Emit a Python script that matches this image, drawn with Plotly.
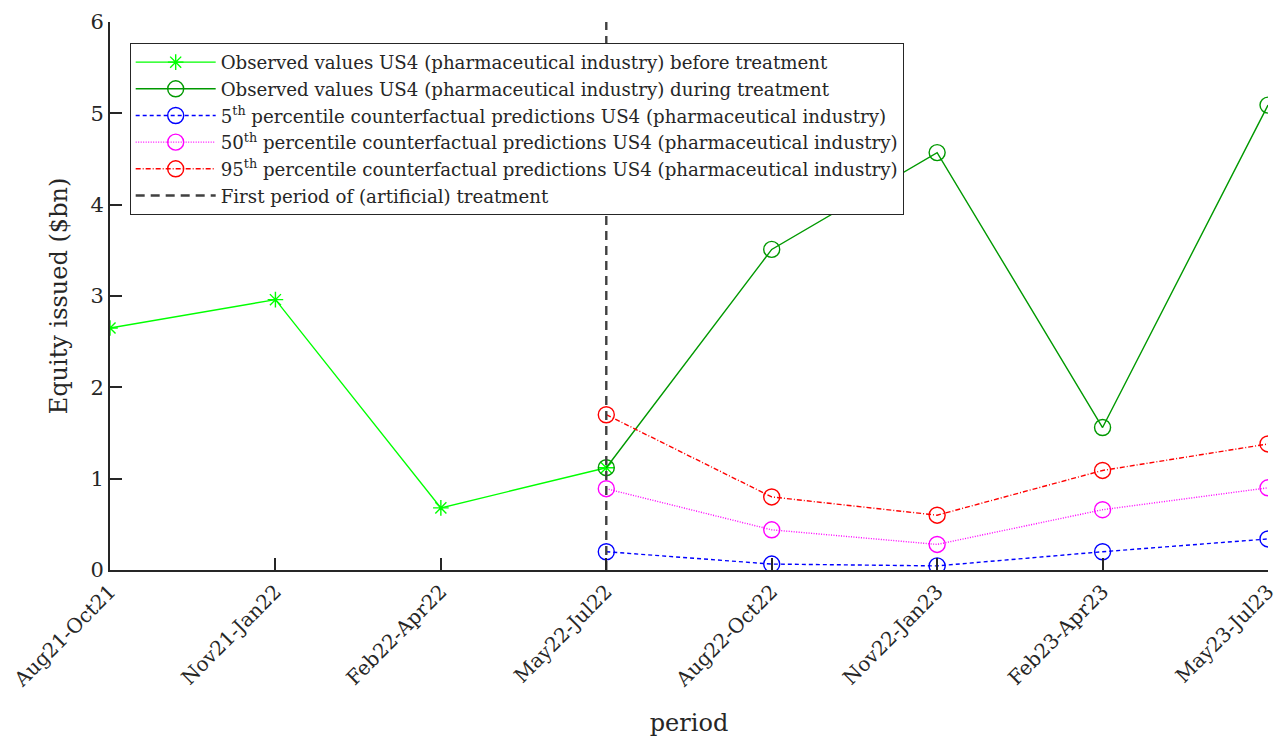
import plotly.graph_objects as go

periods = ["Aug21-Oct21", "Nov21-Jan22", "Feb22-Apr22", "May22-Jul22",
           "Aug22-Oct22", "Nov22-Jan23", "Feb23-Apr23", "May23-Jul23"]
before_idx = [0, 1, 2, 3]
before_vals = [2.65, 2.96, 0.68, 1.12]
during_idx = [3, 4, 5, 6, 7]
during_vals = [1.12, 3.51, 4.57, 1.56, 5.09]
pred_idx = [3, 4, 5, 6, 7]
p5_vals = [0.20, 0.065, 0.045, 0.20, 0.34]
p50_vals = [0.89, 0.44, 0.28, 0.66, 0.90]
p95_vals = [1.70, 0.80, 0.60, 1.09, 1.38]
treat_x = [3, 3]
treat_y = [0, 6]
yticks = [0, 1, 2, 3, 4, 5, 6]

FONT = "DejaVu Serif"
AX = "#262626"
fig = go.Figure()
fig.add_trace(go.Scatter(x=before_idx, y=before_vals, mode="lines+markers",
    name="Observed values US4 (pharmaceutical industry) before treatment",
    line=dict(color="#00ff00", width=1.4),
    marker=dict(symbol="asterisk-open", size=13, color="#00ff00", line=dict(width=1.4, color="#00ff00"))))
fig.add_trace(go.Scatter(x=during_idx, y=during_vals, mode="lines+markers",
    name="Observed values US4 (pharmaceutical industry) during treatment",
    line=dict(color="#009900", width=1.4),
    marker=dict(symbol="circle-open", size=16, color="#009900", line=dict(width=1.4, color="#009900"))))
fig.add_trace(go.Scatter(x=pred_idx, y=p5_vals, mode="lines+markers",
    name="5<sup>th</sup> percentile counterfactual predictions US4 (pharmaceutical industry)",
    line=dict(color="#0000ff", width=1.4, dash="4px,3px"),
    marker=dict(symbol="circle-open", size=16, color="#0000ff", line=dict(width=1.4, color="#0000ff"))))
fig.add_trace(go.Scatter(x=pred_idx, y=p50_vals, mode="lines+markers",
    name="50<sup>th</sup> percentile counterfactual predictions US4 (pharmaceutical industry)",
    line=dict(color="#ff00ff", width=1.4, dash="1px,1.5px"),
    marker=dict(symbol="circle-open", size=16, color="#ff00ff", line=dict(width=1.4, color="#ff00ff"))))
fig.add_trace(go.Scatter(x=pred_idx, y=p95_vals, mode="lines+markers",
    name="95<sup>th</sup> percentile counterfactual predictions US4 (pharmaceutical industry)",
    line=dict(color="#ff0000", width=1.4, dash="5px,2px,1px,2px"),
    marker=dict(symbol="circle-open", size=16, color="#ff0000", line=dict(width=1.4, color="#ff0000"))))
fig.add_trace(go.Scatter(x=treat_x, y=treat_y, mode="lines",
    name="First period of (artificial) treatment",
    line=dict(color="#404040", width=2.4, dash="9px,6px")))

fig.update_layout(
    width=1277, height=738,
    margin=dict(l=102, r=17, t=14, b=176),
    paper_bgcolor="white", plot_bgcolor="white",
    font=dict(family=FONT, size=20, color=AX),
    showlegend=True,
    legend=dict(x=0.017, y=0.962, xanchor="left", yanchor="top",
                bgcolor="white", bordercolor=AX, borderwidth=1,
                font=dict(family=FONT, size=18.2, color=AX),
                itemwidth=80, tracegroupgap=0),
    xaxis=dict(range=[0, 7], tickmode="array", tickvals=list(range(len(periods))),
               ticktext=periods, tickangle=-45, ticks="inside", ticklen=12,
               tickcolor=AX, tickwidth=1.5, automargin=False,
               ticklabeloverflow="allow",
               showline=True, linecolor=AX, linewidth=2,
               showgrid=False, zeroline=False,
               title=dict(text="period", font=dict(size=24), standoff=24),
               tickfont=dict(size=20)),
    yaxis=dict(range=[0, 6], tickmode="array", tickvals=yticks,
               ticks="inside", ticklen=12, tickcolor=AX, tickwidth=1.5, automargin=False,
               showline=True, linecolor=AX, linewidth=2,
               showgrid=False, zeroline=False,
               title=dict(text="Equity issued ($bn)", font=dict(size=24), standoff=16),
               tickfont=dict(size=21)),
)
fig.write_html("out.html")
